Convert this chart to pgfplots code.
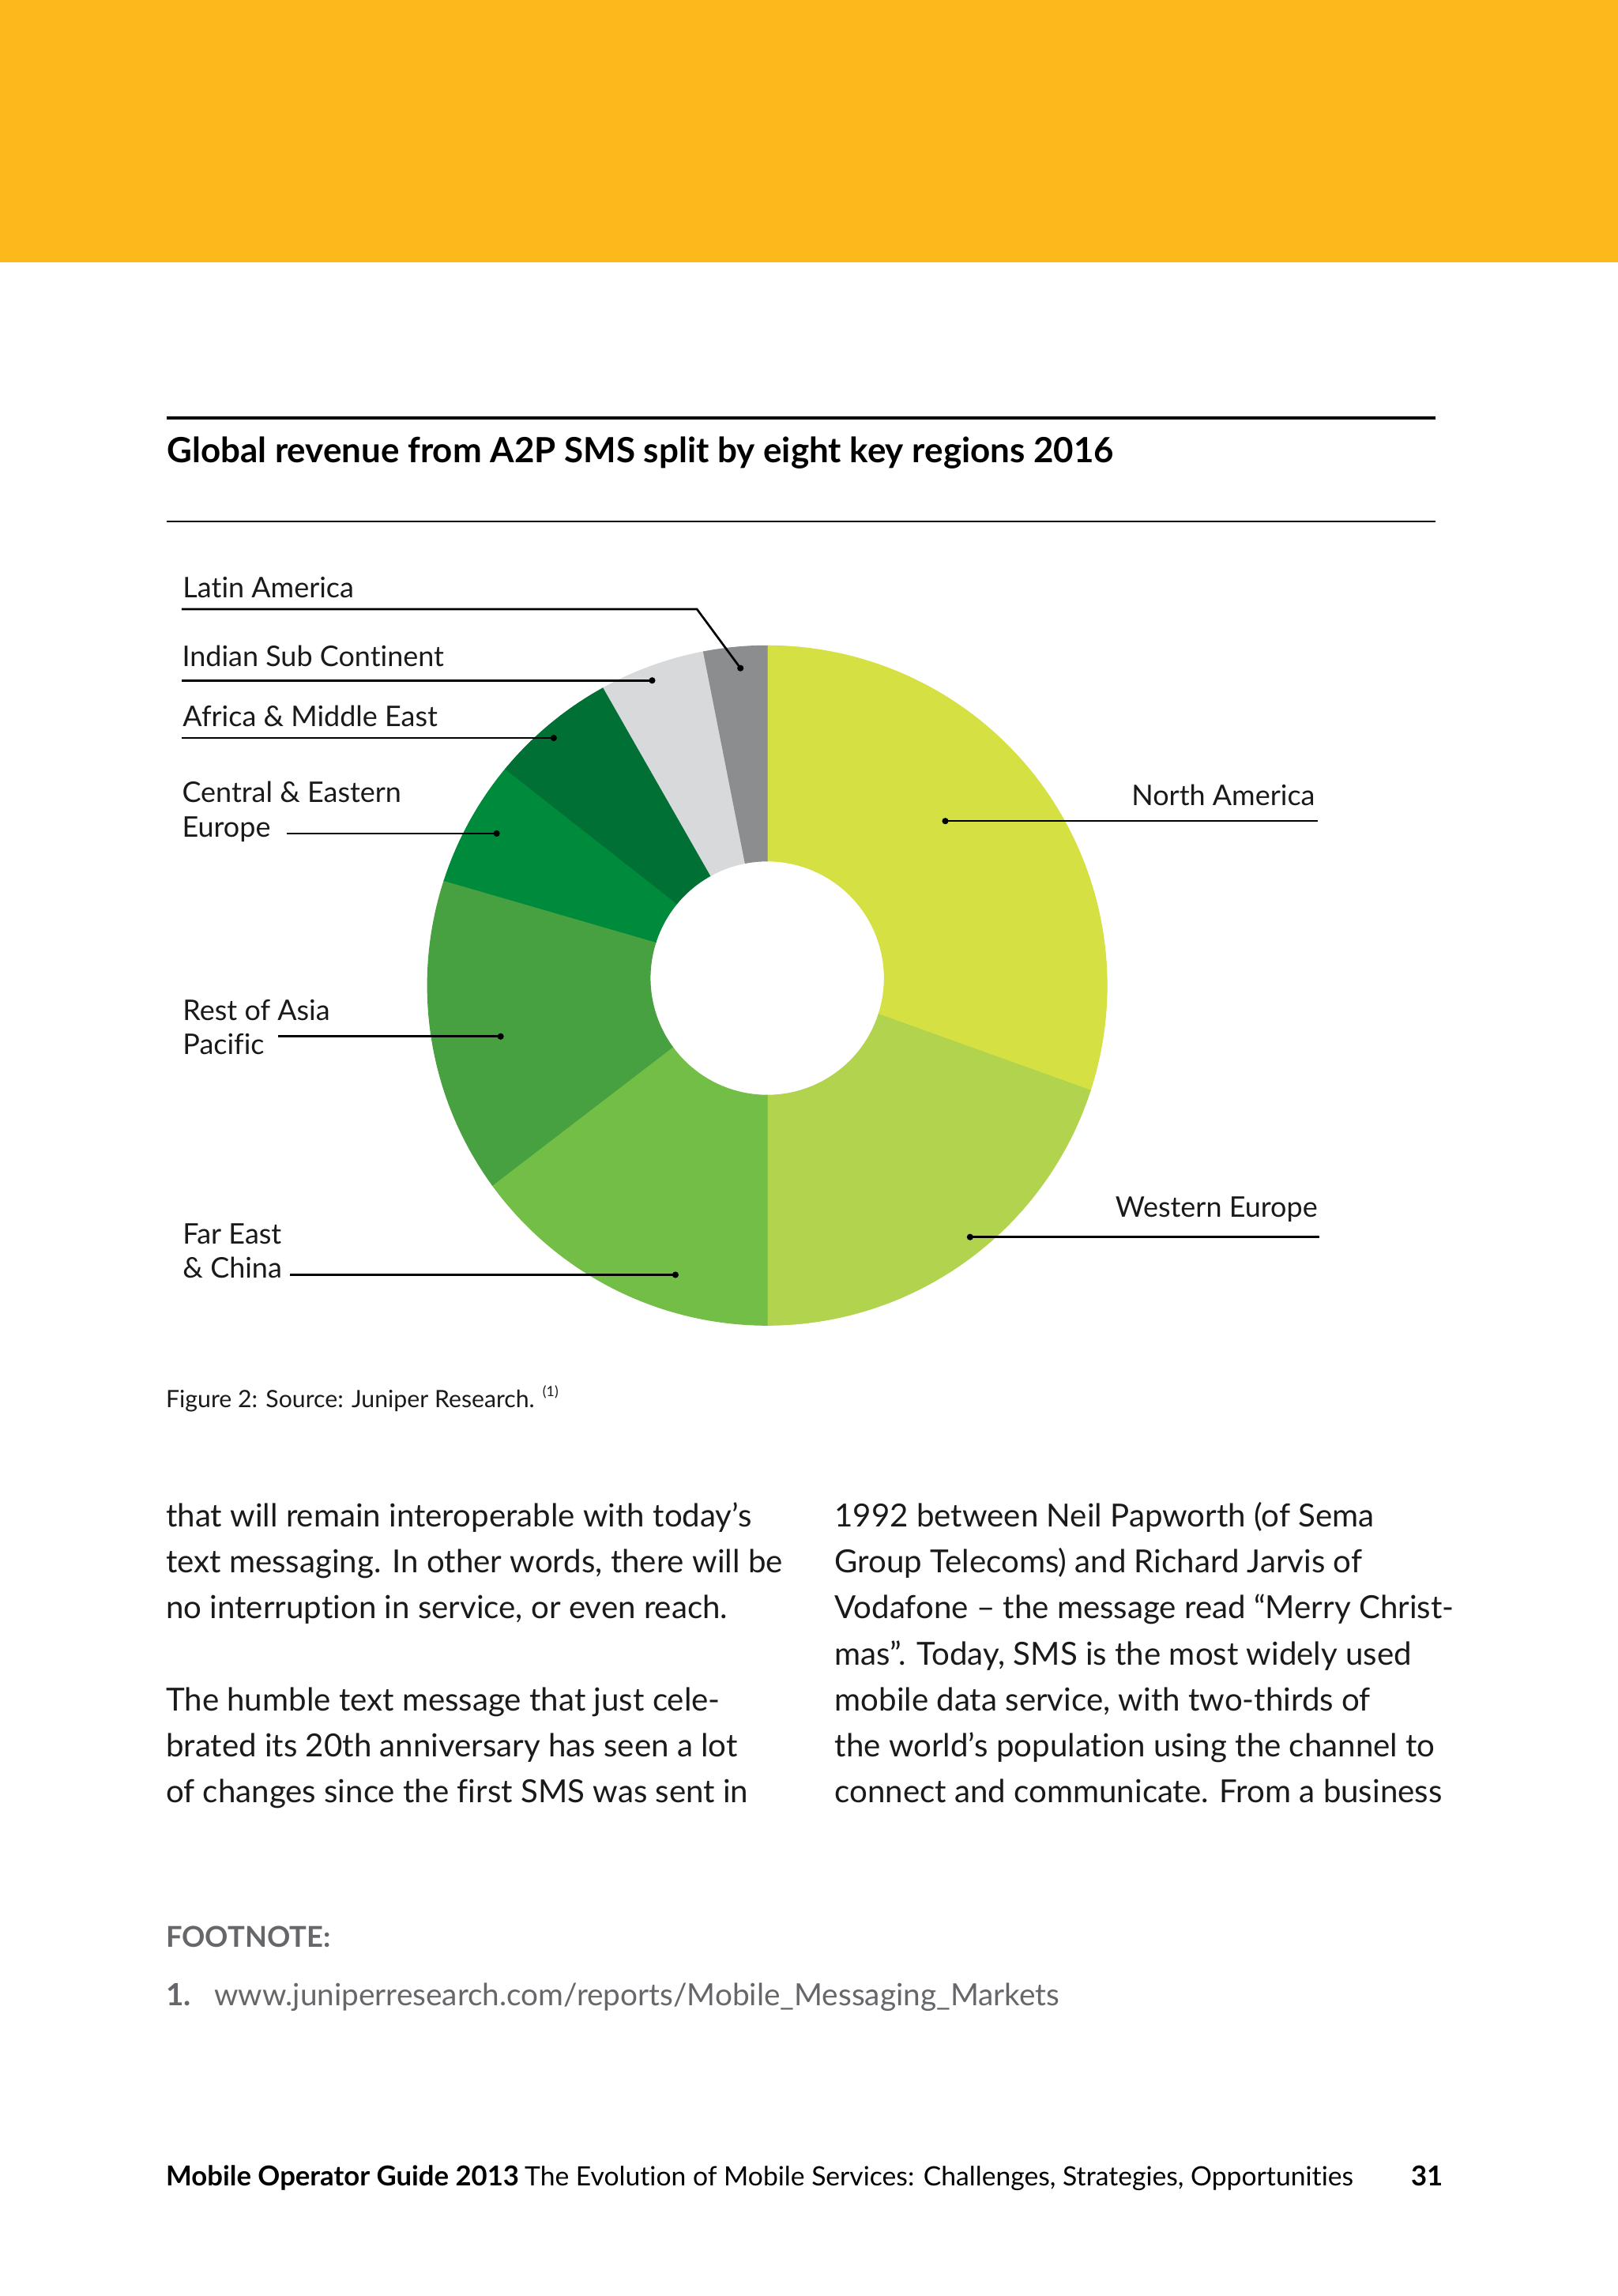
\documentclass[border=0pt]{standalone}
\usepackage{fontspec}
\setmainfont{Lato}[Ligatures={NoCommon}]
\usepackage{pgfplots}
\pgfplotsset{compat=1.18}
\usepackage{pgfplotstable}
\definecolor{band}{HTML}{FDB81B}
\definecolor{cNA}{HTML}{D5E043}
\definecolor{cWE}{HTML}{B2D34D}
\definecolor{cFE}{HTML}{73BE46}
\definecolor{cRAP}{HTML}{48A141}
\definecolor{cCEE}{HTML}{008B3C}
\definecolor{cAME}{HTML}{007035}
\definecolor{cISC}{HTML}{D8D9DB}
\definecolor{cLA}{HTML}{8C8D8F}
\definecolor{txt}{HTML}{1A1A1A}
\definecolor{fgray}{HTML}{66676A}
\newcommand\fs[2]{\fontsize{#1}{#2}\selectfont}

% share of global A2P SMS revenue 2016, clockwise from 12 o'clock (percent)
\pgfplotstableread{
region value colour
NorthAmerica 30 cNA
WesternEurope 20 cWE
FarEastChina 15 cFE
RestOfAsiaPacific 15 cRAP
CentralEasternEurope 6 cCEE
AfricaMiddleEast 6 cAME
IndianSubContinent 5 cISC
LatinAmerica 3 cLA
}\shares

\begin{document}
\begin{tikzpicture}
\begin{scope}[x=0.5pt,y=-0.5pt]
\useasboundingbox (0,0) rectangle (1105,1568);
\fill[white] (0,0) rectangle (1105,1568);
\fill[band] (0,0) rectangle (1105,179);
% title block
\draw[black,line width=1.1pt] (113.6,285.5) -- (980.5,285.5);
\draw[black,line width=0.65pt] (113.6,356) -- (980.5,356);
\node[anchor=base west,inner sep=0,text=black] at (113.6,316) {\fs{11.85}{14}\bfseries Global revenue from A2P SMS split by eight key regions 2016};
% labels
\begin{scope}[every node/.style={anchor=base west,inner sep=0,text=txt,font=\fs{9.7}{11}}]
\node at (124.5,408.3) {Latin America};
\node at (124,455) {Indian Sub Continent};
\node at (124.5,495.9) {Africa \& Middle East};
\node at (124,547.7) {Central \& Eastern};
\node at (124,571.6) {Europe};
\node at (124.5,696.6) {Rest of Asia};
\node at (124.5,720.3) {Pacific};
\node at (124.5,849.4) {Far East};
\node at (124.5,873) {\& China};
\node[anchor=base east] at (898.5,550.2) {North America};
\node[anchor=base east] at (900.2,831.3) {Western Europe};
\end{scope}
% caption
\node[anchor=base west,inner sep=0,text=txt] at (113,961) {\fs{8.15}{9.5}Figure 2: Source: Juniper Research. \raisebox{0.45em}{\fs{4.8}{5}(1)}};
% body text
\begin{scope}[every node/.style={anchor=base west,inner sep=0,text=txt,font=\fs{10.85}{15.7}}]
\node at (113,1042.8) {that will remain interoperable with today’s};
\node at (113,1074.2) {text messaging. In other words, there will be};
\node at (113,1105.5) {no interruption in service, or even reach.};
\node at (113,1168.3) {The humble text message that just cele-};
\node at (113,1199.7) {brated its 20th anniversary has seen a lot};
\node at (113,1231.0) {of changes since the first SMS was sent in};
\node at (569.7,1042.8) {1992 between Neil Papworth (of Sema};
\node at (569.7,1074.2) {Group Telecoms) and Richard Jarvis of};
\node at (569.7,1105.5) {Vodafone – the message read “Merry Christ-};
\node at (569.7,1136.9) {mas”. Today, SMS is the most widely used};
\node at (569.7,1168.3) {mobile data service, with two-thirds of};
\node at (569.7,1199.7) {the world’s population using the channel to};
\node at (569.7,1231.0) {connect and communicate. From a business};
\end{scope}
% footnote
\node[anchor=base west,inner sep=0,text=fgray] at (113,1329.6) {\fs{9.8}{11}\bfseries FOOTNOTE:};
\node[anchor=base west,inner sep=0,text=fgray] at (113,1369.5) {\fs{10.45}{12}\bfseries 1.};
\node[anchor=base west,inner sep=0,text=fgray] at (145.9,1369.5) {\fs{10.45}{12}www.juniperresearch.com/reports/Mobile\_Messaging\_Markets};
% footer
\node[anchor=base west,inner sep=0,text=black] at (113,1492.8) {\fs{9.36}{11}\bfseries Mobile Operator Guide 2013};
\node[anchor=base west,inner sep=0,text=black] at (358,1492.8) {\fs{9.08}{11}The Evolution of Mobile Services: Challenges, Strategies, Opportunities};
\node[anchor=base east,inner sep=0,text=black] at (985.8,1492.8) {\fs{9.36}{11}\bfseries 31};
\end{scope}

\begin{axis}[at={(262pt,-336.5pt)},anchor=origin,
  x=0.5pt,y=0.5pt,xmin=-232,xmax=232,ymin=-232,ymax=232,
  hide axis,clip=false]
\pgfplotstablegetrowsof{\shares}
\pgfmathtruncatemacro\nrows{\pgfplotsretval-1}
\gdef\sAng{90}
\foreach \i in {0,...,\nrows}{
  \pgfplotstablegetelem{\i}{value}\of\shares \let\val\pgfplotsretval
  \pgfplotstablegetelem{\i}{colour}\of\shares \let\col\pgfplotsretval
  \pgfmathsetmacro\eAng{\sAng-3.6*\val}
  \edef\temp{\noexpand\filldraw[\col,line width=0.3pt] (axis cs:{232*cos(\sAng)},{232*sin(\sAng)}) arc[start angle=\sAng,end angle=\eAng,radius=116pt] -- (axis cs:{80*cos(\eAng)},{80*sin(\eAng)+5}) arc[start angle=\eAng,end angle=\sAng,radius=40pt] -- cycle;}
  \temp
  \xdef\sAng{\eAng}
}
% leader lines
\begin{scope}[line width=0.72pt,black]
\draw (axis cs:-400,257) -- (axis cs:-48,257) -- (axis cs:-18.3,216.7);
\fill (axis cs:-18.3,216.7) circle[radius=1.1pt];
\draw (axis cs:-400,208.3) -- (axis cs:-78.6,208.3);
\fill (axis cs:-78.6,208.3) circle[radius=1.1pt];
\draw (axis cs:-400,169) -- (axis cs:-145.8,169);
\fill (axis cs:-145.8,169) circle[radius=1.1pt];
\draw (axis cs:-328,103.8) -- (axis cs:-184.8,103.8);
\fill (axis cs:-184.8,103.8) circle[radius=1.1pt];
\draw (axis cs:-334,-34.8) -- (axis cs:-182.1,-34.8);
\fill (axis cs:-182.1,-34.8) circle[radius=1.1pt];
\draw (axis cs:-325.8,-197.6) -- (axis cs:-62.7,-197.6);
\fill (axis cs:-62.7,-197.6) circle[radius=1.1pt];
\draw (axis cs:121.6,112.3) -- (axis cs:375.8,112.3);
\fill (axis cs:121.6,112.3) circle[radius=1.1pt];
\draw (axis cs:138.5,-171.8) -- (axis cs:376.9,-171.8);
\fill (axis cs:138.5,-171.8) circle[radius=1.1pt];
\end{scope}
\end{axis}
\end{tikzpicture}
\end{document}
